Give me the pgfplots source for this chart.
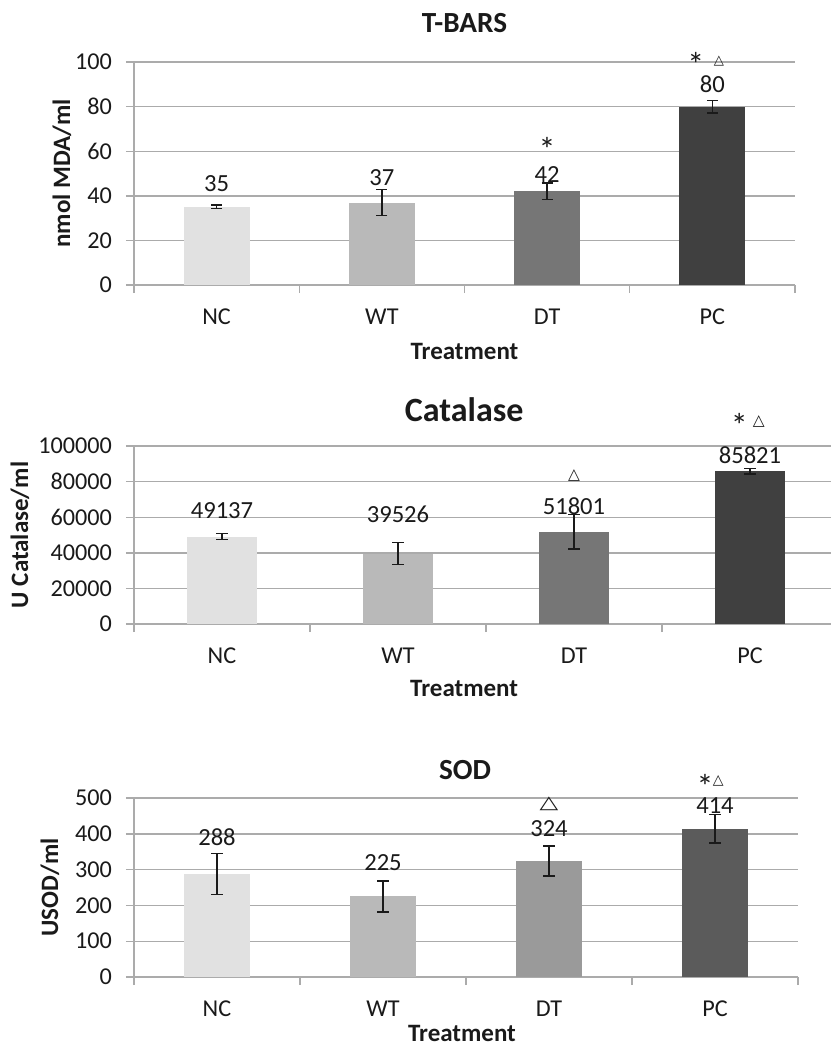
\documentclass[border=0pt]{standalone}
\usepackage{fontspec}
\setmainfont{Carlito}
\newfontfamily\djv{DejaVu Sans}
\usepackage{pgfplots}
\pgfplotsset{compat=1.18}
\definecolor{gridc}{HTML}{ABABAB}
\definecolor{cA}{HTML}{E1E1E1}
\definecolor{cB}{HTML}{B9B9B9}
\definecolor{cC}{HTML}{767676}
\definecolor{cD}{HTML}{404040}
\definecolor{cE}{HTML}{9A9A9A}
\definecolor{cF}{HTML}{5B5B5B}
\definecolor{txt}{HTML}{1A1A1A}
\pgfplotsset{
  mybase/.style={
    scale only axis, anchor=south west,
    xmin=-0.5, xmax=3.5, ymin=0,
    axis x line*=bottom, axis y line*=left,
    axis line style={gridc, line width=0.7pt},
    ymajorgrids, grid style={gridc, line width=0.7pt},
    xtick={-0.5,0.5,1.5,2.5,3.5}, xticklabels={},
    extra x ticks={0,1,2,3}, extra x tick labels={NC,WT,DT,PC},
    extra x tick style={major tick length=0pt, tick style={draw=none}, grid=none,
      tick label style={anchor=center, yshift=-16pt}},
    tick align=outside, major tick length=4pt,
    tick style={gridc, line width=0.7pt},
    tick label style={font=\fontsize{12.1}{13}\selectfont, text=txt},
    yticklabel style={xshift=-3.5pt},
    /pgf/number format/assume math mode=true,
    /pgf/number format/fixed,
    /pgf/number format/precision=0,
    scaled y ticks=false,
    /pgf/number format/1000 sep={},
    clip=false,
    xlabel={Treatment},
    title style={anchor=center, font=\bfseries\fontsize{14.6}{16}\selectfont, text=txt},
    xlabel style={anchor=center, inner sep=0pt, font=\bfseries\fontsize{12.5}{14}\selectfont, text=txt},
    ylabel style={anchor=center, inner sep=0pt, font=\bfseries\fontsize{12.5}{14}\selectfont, text=txt},
  },
  bb/.style={ybar, bar width=0.4, bar shift=0pt, draw=none, fill=#1,
    error bars/.cd, y dir=both, y explicit,
    error bar style={txt, line width=0.7pt},
    error mark=|, error mark options={txt, line width=0.7pt, mark size=2.8pt}},
  lbl/.style={only marks, mark=o, mark size=0pt, mark options={draw=none},
    point meta=explicit symbolic, nodes near coords={\pgfplotspointmeta},
    every node near coord/.append style={anchor=center, inner sep=0pt, text=txt, font=\fontsize{12.3}{13}\selectfont}},
  star/.style={only marks, mark=o, mark size=0pt, mark options={draw=none},
    nodes near coords={*},
    every node near coord/.append style={anchor=center, inner sep=0pt, text=txt, font=\fontsize{17}{18}\selectfont}},
  tri/.style={only marks, mark=o, mark size=0pt, mark options={draw=none},
    nodes near coords={\djv △},
    every node near coord/.append style={anchor=center, inner sep=0pt, text=txt, font=\fontsize{#1}{10}\selectfont}},
}
\begin{document}
\begin{tikzpicture}
\path[use as bounding box] (0,0) rectangle (415.5pt,-523pt);
% ---------------- T-BARS
\begin{axis}[mybase, at={(67pt,-142.5pt)}, width=330.5pt, height=111.5pt,
  ymax=100, ytick={0,20,...,100},
  title={T-BARS}, title style={at={(axis description cs:0.5,1)}, yshift=13.25pt},
  ylabel={nmol MDA/ml}, ylabel style={at={(axis description cs:-0.109,0.5)}},
  xlabel style={at={(axis description cs:0.5,0)}, yshift=-33.25pt}]
\addplot[bb=cA] coordinates {(0,35) +- (0,0.8)};
\addplot[bb=cB] coordinates {(1,37) +- (0,5.9)};
\addplot[bb=cC] coordinates {(2,42) +- (0,3.7)};
\addplot[bb=cD] coordinates {(3,80) +- (0,2.8)};
\addplot[lbl] coordinates {(0,45.6) [35] (1,48.2) [37] (2,49.7) [42] (3,90.0) [80]};
\addplot[star] coordinates {(2,60.6) (2.90,98.8)};
\addplot[tri=6.6] coordinates {(3.04,100.3)};
\end{axis}
% ---------------- Catalase
\begin{axis}[mybase, at={(67pt,-312pt)}, width=352pt, height=89pt,
  ymax=100000, ytick={0,20000,...,100000},
  title={Catalase}, title style={at={(axis description cs:0.469,1)}, yshift=12.25pt, font=\bfseries\fontsize{17}{19}\selectfont},
  ylabel={U Catalase/ml}, ylabel style={at={(axis description cs:-0.162,0.5)}},
  xlabel style={at={(axis description cs:0.469,0)}, yshift=-32pt}]
\addplot[bb=cA] coordinates {(0,49137) +- (0,1700)};
\addplot[bb=cB] coordinates {(1,39526) +- (0,6200)};
\addplot[bb=cC] coordinates {(2,51801) +- (0,9600)};
\addplot[bb=cD] coordinates {(3,85821) +- (0,1600)};
\addplot[lbl] coordinates {(0,63600) [49137] (1,61700) [39526] (2,66400) [51801] (3,94700) [85821]};
\addplot[star] coordinates {(2.94,111400)};
\addplot[tri=7.7] coordinates {(2,83500) (3.05,113500)};
\end{axis}
% ---------------- SOD
\begin{axis}[mybase, at={(67pt,-488.5pt)}, width=332pt, height=89.5pt,
  ymax=500, ytick={0,100,...,500},
  title={SOD}, title style={at={(axis description cs:0.4985,1)}, yshift=7.75pt},
  ylabel={USOD/ml}, ylabel style={at={(axis description cs:-0.1265,0.5)}},
  xlabel style={at={(axis description cs:0.494,0)}, yshift=-28.4pt}]
\addplot[bb=cA] coordinates {(0,288) +- (0,57)};
\addplot[bb=cB] coordinates {(1,225) +- (0,43)};
\addplot[bb=cE] coordinates {(2,324) +- (0,42)};
\addplot[bb=cF] coordinates {(3,414) +- (0,40)};
\addplot[lbl] coordinates {(0,389.7) [288] (1,319.8) [225] (2,415) [324] (3,479.6) [414]};
\addplot[star] coordinates {(2.94,531.6)};
\addplot[tri=9, every node near coord/.append style={xscale=1.35}] coordinates {(2,482.7)};
\addplot[tri=7] coordinates {(3.02,546.6)};
\end{axis}
\end{tikzpicture}
\end{document}
